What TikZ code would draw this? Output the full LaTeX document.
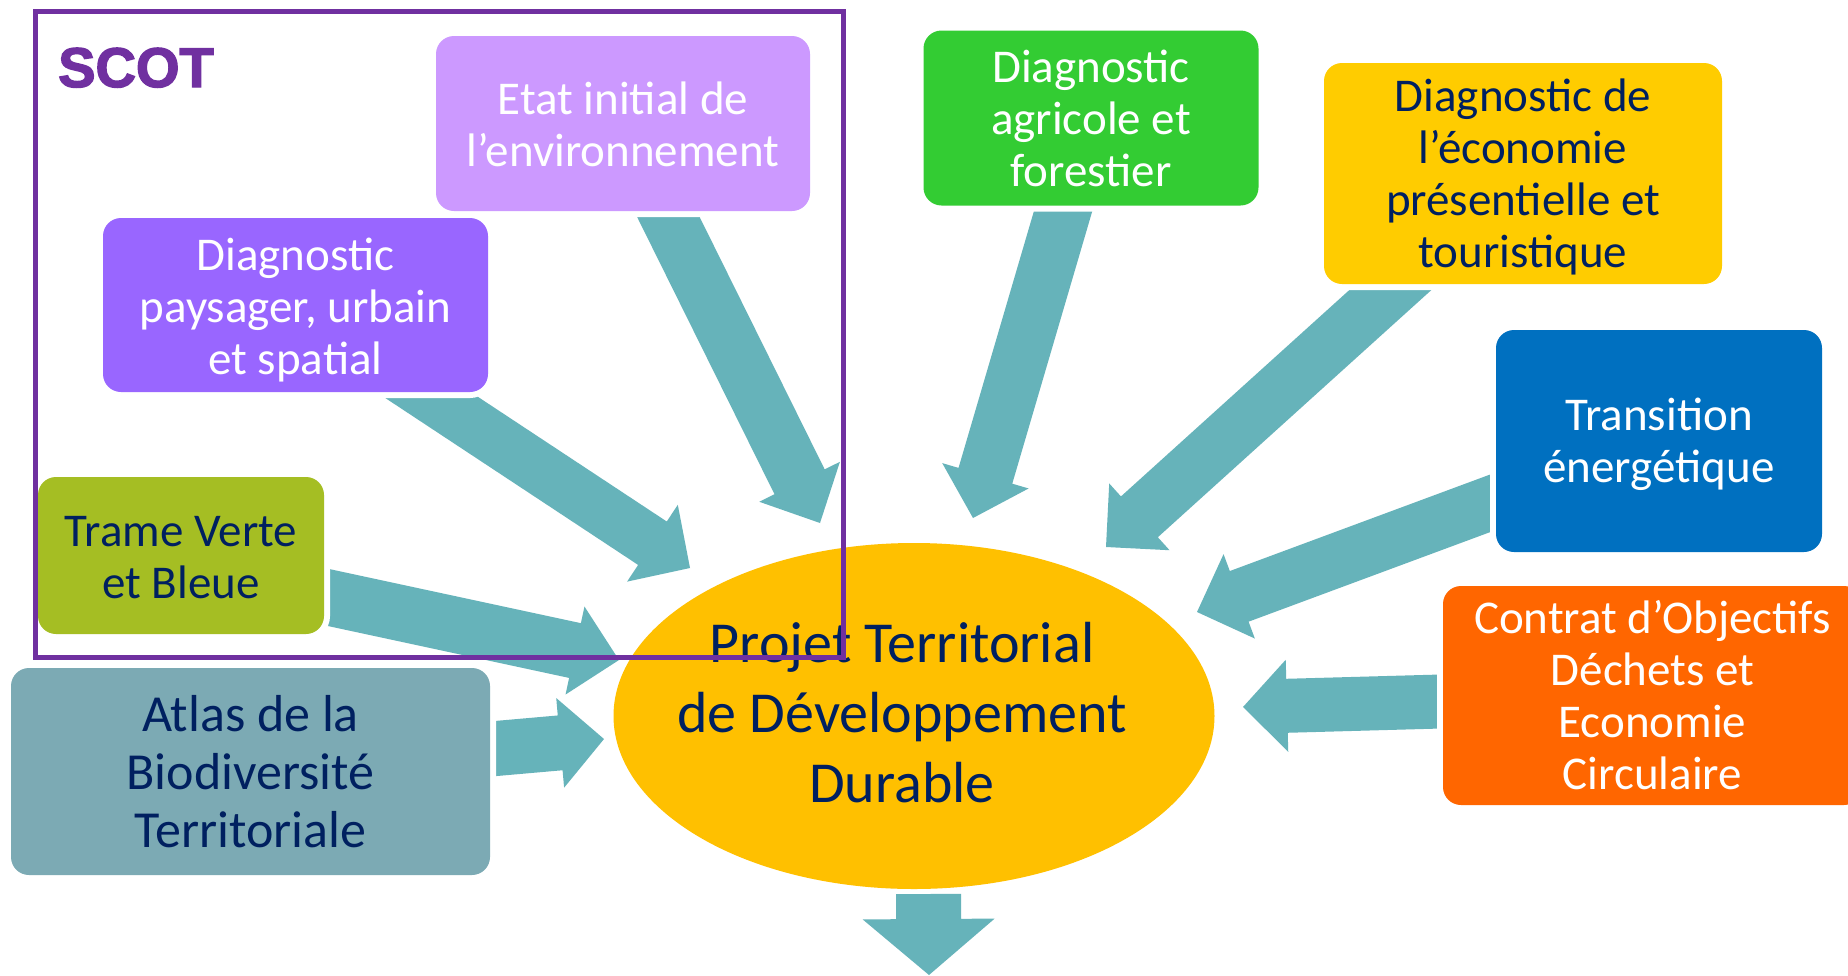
\documentclass[tikz,border=0pt]{standalone}
\usepackage{fontspec}
\setmainfont{Carlito}
\newfontfamily\scotfont{Liberation Sans}[BoldFeatures={FakeBold=2.5}]
\usetikzlibrary{calc,shapes.geometric}
\definecolor{arrc}{RGB}{102,179,186}
\definecolor{navy}{RGB}{0,32,96}
\definecolor{scotc}{RGB}{112,48,160}
\definecolor{etatc}{RGB}{204,153,255}
\definecolor{paysc}{RGB}{153,102,255}
\definecolor{tramec}{RGB}{165,190,35}
\definecolor{atlasc}{RGB}{124,170,180}
\definecolor{agric}{RGB}{51,204,51}
\definecolor{ecoc}{RGB}{255,204,0}
\definecolor{transc}{RGB}{0,112,192}
\definecolor{contc}{RGB}{255,102,0}
\definecolor{ellc}{RGB}{255,192,0}
% block arrow: #1 tail, #2 tip, #3 shaft half width, #4 head half width, #5 head length
\newcommand\blockarr[5]{%
  \coordinate (ba-h) at ($(#2)!#5!(#1)$);
  \fill[arrowfill] ($(#1)!#3!90:(#2)$) -- ($(ba-h)!#3!90:(#2)$) -- ($(ba-h)!#4!90:(#2)$) -- (#2)
     -- ($(ba-h)!#4!-90:(#2)$) -- ($(ba-h)!#3!-90:(#2)$) -- ($(#1)!#3!-90:(#2)$) -- cycle;
}
\begin{document}
\begin{tikzpicture}[x=1pt,y=-1pt,
  arrowfill/.style={fill=arrc},
  card/.style={rounded corners=18pt, inner sep=0pt,
     preaction={draw=white,line width=12pt}},
  cardtext/.style={inner sep=0pt, align=center, font=\fontsize{47}{52}\selectfont},
  whitetxt/.style={cardtext, text=white},
  navytxt/.style={cardtext, text=navy}]
\useasboundingbox (0,0) rectangle (1848,975);
\fill[white] (0,0) rectangle (1848,975);

% central ellipse
\node[ellipse, fill=ellc, minimum width=601pt, minimum height=346pt, inner sep=0pt] (ptdd) at (914,716) {};
\node[align=center, text=navy, font=\fontsize{58}{70}\selectfont, inner sep=0pt] (ptddtxt) at (902,712.5)
  {Projet Territorial\\de Développement\\Durable};

% arrow coordinates
\coordinate (t1) at (655,190);   \coordinate (h1) at (820,523);
\coordinate (t2) at (384,366);   \coordinate (h2) at (690,568);
\coordinate (t3) at (289,589);   \coordinate (h3) at (619,660);
\coordinate (t4) at (456,752);   \coordinate (h4) at (604,739);
\coordinate (t5) at (1074,174);  \coordinate (h5) at (973,518);
\coordinate (t6) at (1428,256);  \coordinate (h6) at (1106,547);
\coordinate (t7) at (1526,490);  \coordinate (h7) at (1197,612);
\coordinate (t8) at (1477,700.5);\coordinate (h8) at (1243,707);
\coordinate (t9) at (928.5,894); \coordinate (h9) at (929,975);

\blockarr{t1}{h1}{28pt}{45pt}{46pt}
\blockarr{t2}{h2}{26pt}{46pt}{45pt}
\blockarr{t3}{h3}{28pt}{45pt}{45pt}
\blockarr{t4}{h4}{27.5pt}{45pt}{44pt}
\blockarr{t5}{h5}{28pt}{45pt}{44pt}
\blockarr{t6}{h6}{27.5pt}{45pt}{45pt}
\blockarr{t7}{h7}{27pt}{45pt}{45pt}
\blockarr{t8}{h8}{27pt}{46pt}{44pt}
\blockarr{t9}{h9}{32.5pt}{66pt}{56pt}

% boxes
\node[card, fill=etatc, minimum width=374pt, minimum height=175pt] (etat) at (623,123.5) {};
\node[whitetxt] (etat-t) at ([yshift=-1pt]etat.center) {Etat initial de\\l’environnement};

\node[card, fill=paysc, minimum width=385pt, minimum height=174pt] (pays) at (295.5,305) {};
\node[whitetxt] (pays-t) at ([yshift=-5pt]pays.center) {Diagnostic\\paysager, urbain\\et spatial};

\node[card, fill=tramec, minimum width=286pt, minimum height=157pt] (trame) at (181,555.5) {};
\node[navytxt] (trame-t) at ([yshift=-2pt]trame.center) {Trame Verte\\et Bleue};

\node[card, fill=atlasc, minimum width=479pt, minimum height=207pt] (atlas) at (250.5,771.5) {};
\node[navytxt, font=\fontsize{52}{58}\selectfont] (atlas-t) at (atlas.center) {Atlas de la\\Biodiversité\\Territoriale};

\node[card, fill=agric, minimum width=335pt, minimum height=175pt] (agri) at (1091,118) {};
\node[whitetxt] (agri-t) at (agri.center) {Diagnostic\\agricole et\\forestier};

\node[card, fill=ecoc, minimum width=398pt, minimum height=221pt] (eco) at (1523,173.5) {};
\node[navytxt] (eco-t) at ([yshift=-3.5pt]eco.center) {Diagnostic de\\l’économie\\présentielle et\\touristique};

\node[card, fill=transc, minimum width=326pt, minimum height=222pt] (trans) at (1659,441) {};
\node[whitetxt] (trans-t) at ([yshift=-3pt]trans.center) {Transition\\énergétique};

\node[card, fill=contc, minimum width=419pt, minimum height=219pt] (cont) at (1652.5,695.5) {};
\node[whitetxt] (cont-t) at (cont.center) {Contrat d’Objectifs\\Déchets et\\Economie\\Circulaire};

% SCOT frame
\node[draw=scotc, line width=5pt, minimum width=808pt, minimum height=646pt, inner sep=0pt] (scotframe) at (439,334) {};
\node[anchor=base west, inner sep=0pt, text=scotc, font=\scotfont\bfseries\fontsize{56}{60}\selectfont] (scot) at (58,87) {SCOT};
\end{tikzpicture}
\end{document}
